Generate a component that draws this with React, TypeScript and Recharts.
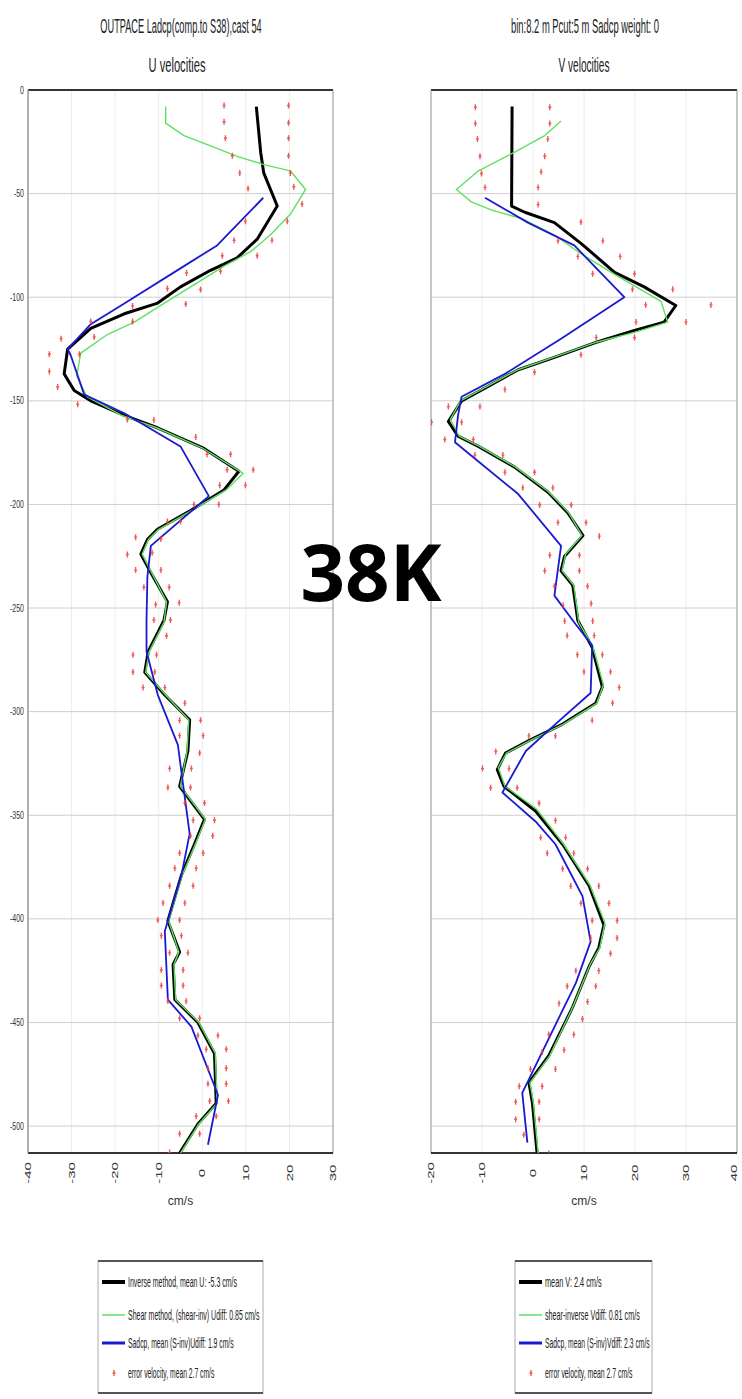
import React from 'react';
import { ScatterChart, Scatter, XAxis, YAxis, CartesianGrid, ReferenceLine } from 'recharts';

// each point is [velocity (cm/s), depth (m)]
type P = [number, number];

const depthTicks = [0, -50, -100, -150, -200, -250, -300, -350, -400, -450, -500];
const uTicks = [-40, -30, -20, -10, 0, 10, 20, 30];
const vTicks = [-20, -10, 0, 10, 20, 30, 40];

const uInverse: P[] = [
  [12.4, -8], [13.4, -30], [14.1, -40], [17.2, -56], [12.6, -72], [8.0, -81], [1.9, -87], [-5.0, -95],
  [-10.4, -103], [-17.9, -108], [-25.6, -115], [-30.9, -125], [-31.7, -137], [-29.4, -145], [-25.6, -150],
  [-17.9, -157], [-10.3, -163], [0.4, -173], [8.4, -184], [5.0, -193], [-2.7, -203], [-10.3, -212],
  [-12.6, -217], [-14.1, -224], [-11.8, -233], [-8.0, -247], [-8.8, -256], [-12.4, -271], [-13.2, -281],
  [-8.6, -292], [-2.9, -304], [-3.3, -319], [-5.2, -336], [0.5, -352], [-1.8, -364], [-4.8, -379],
  [-7.9, -401], [-5.2, -416], [-6.7, -422], [-6.3, -439], [-1.0, -450], [2.8, -465], [3.2, -489],
  [-1.0, -499], [-5.2, -513],
];

const uShear: P[] = [
  [-8.4, -8], [-8.4, -16], [-4.2, -22], [1.9, -27], [8.0, -32], [14.1, -36], [20.2, -39], [23.7, -48],
  [20.2, -60], [15.6, -70], [11.1, -78], [5.0, -85], [-1.1, -93], [-8.8, -103], [-15.6, -112],
  [-21.8, -118], [-27.9, -127], [-28.8, -138], [-26.5, -148], [-18.5, -157], [-10.5, -163], [0.2, -173],
  [9.4, -185], [5.5, -193], [-2.5, -203], [-10.0, -212], [-12.4, -217], [-13.8, -224], [-11.6, -233],
  [-8.2, -247], [-8.8, -257], [-12.2, -271], [-13.0, -281], [-8.4, -292], [-3.1, -304], [-3.5, -319],
  [-5.0, -336], [0.7, -352], [-1.6, -364], [-4.6, -379], [-7.7, -401], [-5.4, -416], [-6.5, -422],
  [-6.1, -439], [-0.8, -450], [3.0, -465], [3.4, -489], [-0.8, -499], [-5.0, -513],
];

const uSadcp: P[] = [
  [14.0, -52], [3.4, -75], [-4.2, -85], [-17.9, -103], [-25.6, -113], [-30.9, -125], [-30.2, -128],
  [-27.1, -147], [-17.9, -156], [-5.0, -172], [1.5, -196], [-11.8, -220], [-12.6, -235], [-12.8, -256],
  [-12.8, -271], [-10.2, -292], [-5.6, -316], [-4.8, -329], [-2.9, -359], [-4.8, -379], [-8.6, -406],
  [-7.9, -439], [-2.5, -452], [3.6, -485], [1.3, -509],
];

const uError: P[] = [
  [5.0, -7.5], [19.8, -7.5], [5.0, -15.3], [19.8, -15.8], [5.3, -23.3], [19.8, -23.3], [6.9, -31.7],
  [19.8, -31.7], [8.6, -40], [20.2, -40], [10.5, -47.5], [21.0, -46.7], [22.9, -55], [9.9, -63.3],
  [19.5, -63.3], [7.3, -72.5], [16.0, -72.5], [4.6, -80], [12.6, -80], [4.2, -87.5], [-3.6, -88.3],
  [-0.4, -96.3], [-8.0, -95.8], [-3.8, -103.3], [-16.0, -104.2], [-16.0, -111.7], [-25.6, -111.7],
  [-24.8, -119.2], [-32.4, -120], [-28.2, -127.5], [-35.1, -127.5], [-35.1, -135.8], [-33.2, -143.3],
  [-28.6, -151.7], [-17.2, -159], [-11.1, -159.2], [-1.5, -167.5], [1.1, -175.8], [6.5, -175.8],
  [5.7, -183.3], [11.7, -183.3], [9.9, -190.8], [4.0, -190.8], [3.8, -200], [-1.9, -200], [-5.0, -208.3],
  [-8.0, -208.3], [-9.5, -216.7], [-15.3, -215.8], [-17.2, -224.2], [-11.5, -223.3], [-9.5, -231.7],
  [-15.3, -231.7], [-13.4, -240], [-7.6, -240], [-10.7, -248.3], [-5.3, -247.5], [-11.1, -255.8],
  [-7.3, -255.8], [-8.2, -263.4], [-15.9, -272.6], [-10.5, -272.6], [-15.9, -280.9], [-10.9, -280.9],
  [-13.6, -288.4], [-8.6, -288.4], [-4.0, -295.8], [-5.2, -304.2], [-0.4, -304.2], [-5.2, -311.6],
  [0.2, -311.6], [-0.6, -320], [-7.5, -327.4], [-2.5, -327.4], [-7.9, -336.6], [-2.7, -336.6],
  [-4.0, -344.1], [0.5, -344.1], [2.8, -352.4], [-2.1, -352.4], [2.4, -359.9], [-2.7, -359.9],
  [-5.2, -368.2], [0.2, -368.2], [-6.3, -375.6], [-1.4, -375.6], [-7.5, -384], [-2.1, -384],
  [-9.0, -392.3], [-4.0, -392.3], [-10.2, -400.6], [-5.2, -400.6], [-9.4, -408.1], [-4.8, -408.1],
  [-7.5, -416.4], [-3.3, -416.4], [-9.4, -424.7], [-4.4, -424.7], [-9.4, -432.2], [-4.4, -432.2],
  [-7.9, -439.7], [-3.7, -439.7], [-5.2, -448], [-0.6, -448], [-1.0, -456.3], [3.6, -456.3],
  [0.9, -462.9], [5.5, -462.9], [1.3, -472.1], [5.5, -472.1], [1.3, -479.6], [5.5, -479.6],
  [1.7, -487.9], [6.0, -487.9], [-1.4, -495.3], [3.2, -495.3], [-5.2, -503.7], [-0.6, -503.7],
  [-7.5, -512.8],
];

const vInverse: P[] = [
  [-4.1, -8], [-4.2, -56], [-1.6, -59], [4.2, -64], [9.4, -74], [16.0, -88], [21.8, -95], [28.0, -104],
  [25.7, -112], [19.9, -116], [12.1, -122], [4.2, -129], [-2.9, -135], [-8.8, -143], [-14.0, -150],
  [-16.6, -160], [-14.7, -167], [-10.7, -172], [-3.6, -182], [2.9, -194], [6.8, -204], [9.8, -215],
  [6.2, -225], [5.5, -232], [7.8, -239], [8.8, -256], [11.6, -269], [13.6, -288], [12.3, -296],
  [5.8, -306], [-0.8, -314], [-5.4, -320], [-7.0, -328], [-5.7, -336], [0.5, -348], [5.8, -364],
  [11.0, -384], [13.9, -403], [12.9, -414], [11.0, -423], [7.7, -443], [3.1, -466], [-0.8, -479],
  [-0.1, -489], [0.8, -513],
];

const vShear: P[] = [
  [5.5, -15], [2.3, -22], [-3.6, -30], [-10.7, -39], [-15.0, -48], [-12.1, -54], [-8.1, -58], [-2.3, -62],
  [4.2, -70], [9.4, -79], [16.0, -89], [25.1, -102], [26.4, -112], [19.9, -117], [12.0, -122], [4.0, -129],
  [-3.0, -135], [-9.0, -143], [-14.2, -150], [-16.2, -159], [-14.5, -167], [-10.5, -172], [-3.4, -182],
  [3.1, -194], [7.0, -204], [9.6, -215], [6.4, -224], [5.7, -232], [8.0, -239], [9.0, -257], [11.8, -269],
  [13.8, -287], [12.5, -296], [6.0, -306], [-0.6, -314], [-5.2, -320], [-6.8, -327], [-5.5, -336],
  [0.7, -347], [6.0, -364], [11.2, -384], [14.1, -402], [13.1, -414], [11.2, -422], [7.9, -442],
  [3.3, -466], [-0.6, -479], [0.1, -489], [1.0, -513],
];

const vSadcp: P[] = [
  [-9.4, -52], [-1.0, -64], [8.1, -75], [17.9, -100], [5.5, -120], [-5.5, -137], [-14.0, -148],
  [-14.7, -157], [-15.3, -170], [-2.9, -195], [5.5, -220], [4.2, -244], [8.1, -257], [11.6, -268],
  [11.3, -291], [4.4, -306], [-1.4, -319], [-6.0, -339], [0.5, -353], [4.4, -364], [9.7, -389],
  [11.3, -411], [8.4, -431], [-2.1, -484], [-1.1, -508],
];

const vError: P[] = [
  [-11.3, -8.3], [3.3, -8.3], [-11.3, -16.2], [3.3, -16.2], [-10.9, -23.7], [2.9, -23.7], [-10.4, -32],
  [2.3, -32], [-10.1, -40.3], [1.6, -39.5], [-9.4, -47], [1.0, -47], [1.0, -55.3], [9.4, -63.7],
  [4.9, -72.8], [13.7, -72.8], [8.8, -80.3], [17.1, -80.3], [11.7, -88.7], [19.9, -88.7], [19.5, -96.2],
  [27.4, -96.2], [22.1, -103.7], [34.9, -103.7], [30.0, -112], [20.2, -112], [19.9, -119.5],
  [12.4, -119.5], [9.4, -127.8], [0.3, -136.2], [-5.5, -144.5], [-10.4, -152.8], [-16.6, -152.8],
  [-19.9, -160.3], [-14.0, -160.3], [-17.3, -168.7], [-11.7, -168.7], [-5.9, -176.2], [-11.4, -176.2],
  [0.3, -184.5], [-5.5, -184.5], [3.9, -192], [-2.0, -192], [7.5, -200.3], [1.3, -200.3],
  [10.4, -208.7], [4.9, -208.7], [13.0, -215.3], [9.1, -224.5], [3.3, -224.5], [2.3, -232], [9.1, -232],
  [10.7, -239.5], [4.2, -239.5], [11.4, -247.8], [5.9, -248.7], [11.7, -256.2], [6.2, -256.2],
  [6.7, -263.3], [12.0, -263.3], [8.7, -272.5], [13.6, -272.5], [10.0, -280.8], [15.2, -280.8],
  [16.9, -288.3], [15.6, -295.8], [11.6, -304.2], [4.4, -311.7], [-0.8, -311.7], [-7.3, -319.2],
  [-9.9, -327.5], [-4.7, -327.5], [-8.3, -336.7], [-3.1, -336.7], [1.2, -344.2], [4.4, -352.5],
  [1.5, -360.8], [6.4, -360.8], [2.8, -368.3], [8.0, -368.3], [5.8, -375.8], [10.7, -375.8],
  [7.4, -384.2], [12.9, -384.2], [9.4, -392.5], [14.9, -392.5], [11.6, -400.8], [16.5, -400.8],
  [11.3, -409.2], [16.5, -409.2], [15.2, -416.7], [12.9, -425], [8.4, -425], [12.3, -432.5],
  [6.7, -432.5], [10.7, -440], [5.1, -440.8], [9.7, -448.3], [8.0, -455.8], [3.1, -455.8],
  [6.1, -463.3], [1.8, -464.2], [4.4, -472.5], [-0.5, -472.5], [-2.7, -480.8], [1.8, -480.8],
  [-3.4, -488.3], [1.2, -488.3], [-3.4, -496.7], [1.2, -496.7], [-1.8, -504.2], [3.1, -513.3],
];

const leftTitle = ['OUTPACE Ladcp(comp.to S38),cast 54', 'U velocities'];
const rightTitle = ['bin:8.2 m Pcut:5 m Sadcp weight: 0', 'V velocities'];
const leftLegend = [
  'Inverse method, mean U: -5.3 cm/s',
  'Shear method, (shear-inv) Udiff: 0.85 cm/s',
  'Sadcp, mean (S-inv)Udiff: 1.9 cm/s',
  'error velocity, mean 2.7 cm/s',
];
const rightLegend = [
  'mean V: 2.4 cm/s',
  'shear-inverse Vdiff: 0.81 cm/s',
  'Sadcp, mean (S-inv)Vdiff: 2.3 cm/s',
  'error velocity, mean 2.7 cm/s',
];

const BLACK = '#000000';
const GREEN = '#5fe05f';
const BLUE = '#1a1ad0';
const RED = '#f03c3c';
const FONT = '"Liberation Sans", Arial, sans-serif';

// rough Arial advance widths (per 1000 em), used to squeeze text to the narrow look of the original
const widthGroups: [string, number][] = [
  ['ijl', 222], [' :.,;!ftI/', 278], ['()-r', 333], ['cksvxyzJ', 500], ['FTZ', 611],
  ['ABEKPSVXY', 667], ['CDHNRUw', 722], ['GOQ', 778], ['mM', 833], ['W', 944],
];
const textWidth = (s: string, fs: number) => {
  let w = 0;
  for (const ch of s) {
    const g = widthGroups.find(([chars]) => chars.includes(ch));
    w += g ? g[1] : 556;
  }
  return (w * fs) / 1000;
};

const SqText: React.FC<{ x: number; y: number; w: number; fs: number; text: string; anchor?: 'start' | 'middle' }> = ({
  x, y, w, fs, text, anchor = 'start',
}) => {
  const sx = w / textWidth(text, fs);
  return (
    <g transform={`translate(${x},${y}) scale(${sx.toFixed(3)},1)`}>
      <text x={0} y={0} fontSize={fs} textAnchor={anchor} fill="#222" fontFamily={FONT}>
        {text}
      </text>
    </g>
  );
};

const toXY = (pts: P[]) => pts.map(([x, y]) => ({ x, y }));
const noDot = () => <g />;

const ErrMark = (props: any) => {
  const { cx, cy } = props;
  if (cx == null || cy == null) return <g />;
  return (
    <path
      d={`M${cx - 1.5},${cy}h3M${cx},${cy - 3}v6`}
      stroke={RED}
      strokeWidth={1.4}
      opacity={0.85}
    />
  );
};

const XTick = (props: any) => {
  const { x, y, payload } = props;
  return (
    <g transform={`translate(${x},${y + 20}) rotate(-90) scale(1,0.6)`}>
      <text x={0} y={0} dy="0.35em" textAnchor="middle" fontSize={15} fill="#333" fontFamily={FONT}>
        {payload.value}
      </text>
    </g>
  );
};

const YTick = (props: any) => {
  const { x, y, payload } = props;
  return (
    <g transform={`translate(${x},${y}) scale(0.7,1)`}>
      <text x={0} y={0} dy="0.35em" textAnchor="end" fontSize={10} fill="#333" fontFamily={FONT}>
        {payload.value}
      </text>
    </g>
  );
};

interface ProfileProps {
  inverse: P[];
  shear: P[];
  sadcp: P[];
  error: P[];
  xTicks: number[];
  margin: { top: number; right: number; bottom: number; left: number };
  showDepth: boolean;
}

const Profile: React.FC<ProfileProps> = ({ inverse, shear, sadcp, error, xTicks, margin, showDepth }) => {
  const xMin = xTicks[0];
  const xMax = xTicks[xTicks.length - 1];
  return (
    <ScatterChart width={371} height={1230} margin={margin}>
      <CartesianGrid horizontal={false} stroke="#ececec" />
      <CartesianGrid vertical={false} stroke="#cfcfcf" />
      <XAxis
        type="number"
        dataKey="x"
        domain={[xMin, xMax]}
        ticks={xTicks}
        allowDataOverflow
        height={70}
        tickSize={0}
        tickMargin={0}
        tick={<XTick />}
        axisLine={{ stroke: '#333', strokeWidth: 2 }}
        label={{ value: 'cm/s', position: 'insideBottom', offset: 18, fontSize: 12, fill: '#333', fontFamily: FONT }}
      />
      <YAxis
        type="number"
        dataKey="y"
        domain={[-513, 0]}
        ticks={depthTicks}
        allowDataOverflow
        hide={!showDepth}
        width={20}
        tickSize={0}
        tickMargin={4}
        tick={<YTick />}
        axisLine={{ stroke: '#999' }}
      />
      <ReferenceLine y={0} stroke="#333" strokeWidth={2} />
      <ReferenceLine x={xMin} stroke="#999" />
      <ReferenceLine x={xMax} stroke="#999" />
      <Scatter
        data={toXY(inverse)}
        shape={noDot}
        line={{ stroke: BLACK, strokeWidth: 3, strokeLinejoin: 'round' }}
        isAnimationActive={false}
      />
      <Scatter
        data={toXY(shear)}
        shape={noDot}
        line={{ stroke: GREEN, strokeWidth: 1.4, strokeLinejoin: 'round' }}
        isAnimationActive={false}
      />
      <Scatter
        data={toXY(sadcp)}
        shape={noDot}
        line={{ stroke: BLUE, strokeWidth: 1.8, strokeLinejoin: 'round' }}
        isAnimationActive={false}
      />
      <Scatter data={toXY(error)} shape={<ErrMark />} isAnimationActive={false} />
    </ScatterChart>
  );
};

const LegendBox: React.FC<{ x: number; w: number; items: string[]; widths: number[] }> = ({ x, w, items, widths }) => {
  const rows = [1282, 1315, 1343, 1373];
  const lx = x + 4;
  const tx = x + 30;
  return (
    <g>
      <rect x={x} y={1261} width={w} height={132} fill="#fff" stroke="#aaa" />
      <line x1={x} x2={x + w} y1={1261} y2={1261} stroke="#555" strokeWidth={2} />
      <line x1={x} x2={x + w} y1={1393} y2={1393} stroke="#555" strokeWidth={2} />
      <line x1={lx} x2={lx + 23} y1={rows[0]} y2={rows[0]} stroke={BLACK} strokeWidth={4} />
      <line x1={lx} x2={lx + 23} y1={rows[1]} y2={rows[1]} stroke={GREEN} strokeWidth={1.5} />
      <line x1={lx} x2={lx + 23} y1={rows[2]} y2={rows[2]} stroke={BLUE} strokeWidth={3} />
      <ErrMark cx={lx + 12} cy={rows[3]} />
      {items.map((t, i) => (
        <SqText key={t} x={tx} y={rows[i] + 5} w={widths[i]} fs={14} text={t} />
      ))}
    </g>
  );
};

export default function App() {
  return (
    <div style={{ position: 'absolute', left: 0, top: 0, width: 742, height: 1399, background: '#fff' }}>
      <div style={{ position: 'absolute', left: 0, top: 0 }}>
        <Profile
          inverse={uInverse}
          shear={uShear}
          sadcp={uSadcp}
          error={uError}
          xTicks={uTicks}
          margin={{ top: 90, right: 38, bottom: 7, left: 8 }}
          showDepth
        />
      </div>
      <div style={{ position: 'absolute', left: 371, top: 0 }}>
        <Profile
          inverse={vInverse}
          shear={vShear}
          sadcp={vSadcp}
          error={vError}
          xTicks={vTicks}
          margin={{ top: 90, right: 5, bottom: 7, left: 60 }}
          showDepth={false}
        />
      </div>
      <svg
        width={742}
        height={1399}
        style={{ position: 'absolute', left: 0, top: 0, pointerEvents: 'none' }}
      >
        <SqText x={181} y={33} w={162} fs={21} text={leftTitle[0]} anchor="middle" />
        <SqText x={177} y={72} w={57} fs={21} text={leftTitle[1]} anchor="middle" />
        <SqText x={585} y={33} w={148} fs={21} text={rightTitle[0]} anchor="middle" />
        <SqText x={584} y={72} w={51} fs={21} text={rightTitle[1]} anchor="middle" />
        <LegendBox x={98} w={165} items={leftLegend} widths={[109, 132, 106, 87]} />
        <LegendBox x={515} w={137} items={rightLegend} widths={[57, 95, 105, 88]} />
        <text
          x={371}
          y={601}
          textAnchor="middle"
          fontSize={78}
          fontWeight={700}
          fontFamily='"Open Sans", "Noto Sans", sans-serif'
          fill="#000"
        >
          38K
        </text>
      </svg>
    </div>
  );
}
